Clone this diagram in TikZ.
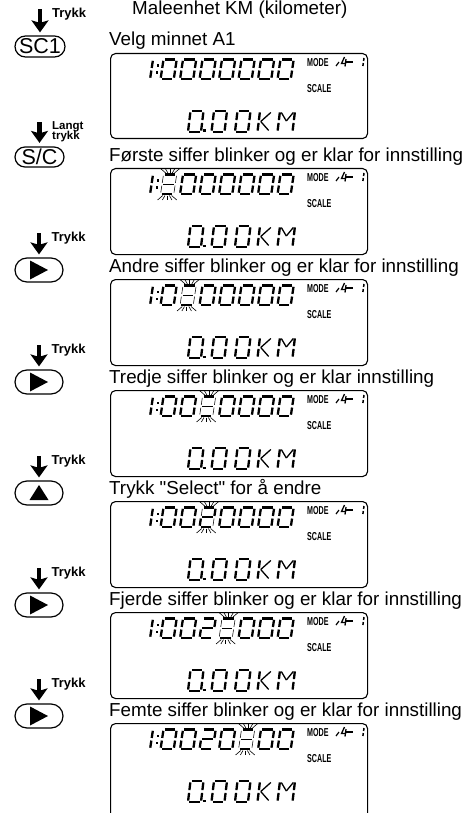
\documentclass[tikz,border=0pt]{standalone}
\usepackage{fontspec}
\setmainfont{Liberation Sans}[Ligatures=TeXOff]
\usetikzlibrary{arrows.meta}
\tikzset{
  seg/.style={line width=2.3pt},
  ghost/.style={line width=0.55pt},
  ray/.style={line width=0.6pt},
  thinseg/.style={line width=1.3pt},
  lcdbox/.style={draw, line width=1.1pt, rounded corners=5pt, minimum width=257pt, anchor=north west, inner sep=0pt},
  btn/.style={draw, line width=1.2pt, inner sep=0pt, font=\fontsize{21.5}{21.5}\selectfont},
  caption/.style={anchor=base west, inner sep=0pt, font=\fontsize{18.8}{20}\selectfont},
  lbl/.style={anchor=base west, inner sep=0pt, font=\fontsize{13}{13}\selectfont\bfseries},
  lbls/.style={anchor=base west, inner sep=0pt, font=\fontsize{11.5}{11.5}\selectfont\bfseries},
  small/.style={anchor=west, inner sep=0pt, font=\fontsize{11.5}{11.5}\selectfont\bfseries},
  press/.style={line width=4.4pt, -{Stealth[length=12pt,width=17pt,inset=2.5pt]}},
}
\newcommand\lcdSegA{\draw[curseg] ({\lcdG},0) -- ({\lcdW-\lcdG},0);}
\newcommand\lcdSegB{\draw[curseg] ({\lcdW},{\lcdG}) -- ({\lcdW},{\lcdH/2-\lcdG});}
\newcommand\lcdSegC{\draw[curseg] ({\lcdW},{\lcdH/2+\lcdG}) -- ({\lcdW},{\lcdH-\lcdG});}
\newcommand\lcdSegD{\draw[curseg] ({\lcdG},{\lcdH}) -- ({\lcdW-\lcdG},{\lcdH});}
\newcommand\lcdSegE{\draw[curseg] (0,{\lcdH/2+\lcdG}) -- (0,{\lcdH-\lcdG});}
\newcommand\lcdSegF{\draw[curseg] (0,{\lcdG}) -- (0,{\lcdH/2-\lcdG});}
\newcommand\lcdSegG{\draw[curseg] ({\lcdG},{\lcdH/2}) -- ({\lcdW-\lcdG},{\lcdH/2});}
\newcommand\lcddigit[4]{%
  \begin{scope}[shift={(#1,#2)}, xslant=\lcdS]
    \tikzset{curseg/.style={#4}}%
    \foreach \s in {#3}{\csname lcdSeg\s\endcsname}%
  \end{scope}}
\newcommand\lcdrays[2]{%
  \foreach \i in {-2,-1,0,1,2}{%
    \draw[ray] ({#1+2.2*\i},{#2-1.5}) -- ({#1+4.8*\i},{#2-6});
    \draw[ray] ({#1-\lcdS*\lcdH+2.2*\i},{#2+\lcdH+1.5}) -- ({#1-\lcdS*\lcdH+4.8*\i},{#2+\lcdH+6});
  }}
\newcommand\upperrow[4]{%
  \def\lcdW{13.2}\def\lcdH{19.5}\def\lcdS{0.15}\def\lcdG{1.3}%
  \lcddigit{153}{#1}{E,F}{seg}%
  \fill ({157.5-0.15*5},{#1+5}) rectangle +(2.2,2.2);
  \fill ({157.5-0.15*12},{#1+12}) rectangle +(2.2,2.2);
  \foreach \v [count=\n] in {#4}{%
    \pgfmathsetmacro\xx{163.5+19.5*(\n-1)}%
    \ifnum\n=#2\relax
      \lcddigit{\xx}{#1}{A,B,C,D,E,F,G}{ghost}%
      \lcddigit{\xx}{#1}{#3}{seg}%
      \lcdrays{\xx+6.6}{#1}%
    \else
      \ifnum\v=2\relax \lcddigit{\xx}{#1}{A,B,G,E,D}{seg}%
      \else \lcddigit{\xx}{#1}{A,B,C,D,E,F}{seg}\fi
    \fi}}
\newcommand\lowerrow[1]{%
  \def\lcdW{13}\def\lcdH{21}\def\lcdS{0.12}\def\lcdG{1.4}%
  \lcddigit{190.5}{#1}{A,B,C,D,E,F}{seg}%
  \lcddigit{214}{#1}{A,B,C,D,E,F}{seg}%
  \lcddigit{237.5}{#1}{A,B,C,D,E,F}{seg}%
  \fill ({205-0.12*19},{#1+18.5}) rectangle +(2.8,2.8);
  \begin{scope}[shift={(260,#1)}, xslant=0.12]
    \draw[seg] (0,1.4) -- (0,9.1); \draw[seg] (0,11.9) -- (0,19.6);
    \draw[thinseg] (2,10.5) -- (11,1.5); \draw[thinseg] (2,10.5) -- (11,19.5);
  \end{scope}
  \begin{scope}[shift={(280,#1)}, xslant=0.12]
    \draw[seg] (0,1.4) -- (0,9.1); \draw[seg] (0,11.9) -- (0,19.6);
    \draw[seg] (15,1.4) -- (15,9.1); \draw[seg] (15,11.9) -- (15,19.6);
    \draw[thinseg] (1.5,1.5) -- (7.5,10); \draw[thinseg] (13.5,1.5) -- (7.5,10);
  \end{scope}}
\newcommand\lcdpanel[6]{% #1 name, #2 box top, #3 height, #4 blink pos, #5 blink segs, #6 digits
  \node[lcdbox, minimum height=#3pt] (box#1) at (110,#2) {};
  \upperrow{#2+6.5}{#4}{#5}{#6}%
  \lowerrow{#2+58}%
  \node[small] (mode#1) at (307,#2+9.5) {\scalebox{0.62}[1]{MODE}};
  \node[small] (scale#1) at (307,#2+36) {\scalebox{0.62}[1]{SCALE}};
  \draw[line width=1.2pt] (336,#2+13) -- (339,#2+9);
  \draw[line width=1.3pt] (344.5,#2+4) -- (341.5,#2+10.5) -- (346,#2+10.5);
  \draw[line width=1.3pt] (346,#2+6) -- (345,#2+13.5);
  \draw[line width=2pt] (346,#2+9) -- (353,#2+9);
  \draw[line width=1.5pt] (364,#2+5) -- (363.6,#2+8);
  \draw[line width=1.5pt] (363.3,#2+10) -- (362.9,#2+13);
}
\begin{document}
\begin{tikzpicture}[x=1pt, y=-1pt]
\useasboundingbox (0,0) rectangle (465,813);
\node[caption] (title) at (132,15) {Maleenhet KM (kilometer)};

% captions
\node[caption] (cap1) at (109,46) {Velg minnet A1};
\node[caption] (cap2) at (109,161) {Første siffer blinker og er klar for innstilling};
\node[caption] (cap3) at (109,272) {Andre siffer blinker og er klar for innstilling};
\node[caption] (cap4) at (109,383) {Tredje siffer blinker og er klar innstilling};
\node[caption] (cap5) at (109,494) {Trykk "Select" for å endre};
\node[caption] (cap6) at (109,605) {Fjerde siffer blinker og er klar for innstilling};
\node[caption] (cap7) at (109,716) {Femte siffer blinker og er klar for innstilling};

% displays
\lcdpanel{1}{53}{85}{0}{A}{0,0,0,0,0,0,0}
\lcdpanel{2}{168}{86}{1}{A,D}{0,0,0,0,0,0,0}
\lcdpanel{3}{279}{86}{2}{A,D}{0,0,0,0,0,0,0}
\lcdpanel{4}{390}{86}{3}{A,D}{0,0,0,0,0,0,0}
\lcdpanel{5}{501}{86}{3}{A,B,G,E,D}{0,0,2,0,0,0,0}
\lcdpanel{6}{612}{86}{4}{A,D}{0,0,2,0,0,0,0}
\lcdpanel{7}{723}{95}{5}{A,D}{0,0,2,0,0,0,0}

% buttons
\node[btn, minimum width=50pt, minimum height=21pt, rounded corners=10.5pt] (b1) at (40,46.5) {SC1};
\node[btn, minimum width=49pt, minimum height=20pt, rounded corners=10pt] (b2) at (39.5,157) {S/C};
\node[btn, minimum width=48pt, minimum height=24pt, rounded corners=12pt] (b3) at (39,270) {};
\node[btn, minimum width=48pt, minimum height=24pt, rounded corners=12pt] (b4) at (39,382) {};
\node[btn, minimum width=48pt, minimum height=24pt, rounded corners=12pt] (b5) at (39,493) {};
\node[btn, minimum width=48pt, minimum height=24pt, rounded corners=12pt] (b6) at (39,605) {};
\node[btn, minimum width=48pt, minimum height=24pt, rounded corners=12pt] (b7) at (39,716) {};
\foreach \b in {b3,b4,b6,b7}{
  \fill ([shift={(-9,-9.5)}]\b.center) -- ([shift={(-9,9.5)}]\b.center) -- ([shift={(9,0)}]\b.center) -- cycle;
}
\fill ([shift={(-9.5,7)}]b5.center) -- ([shift={(9.5,7)}]b5.center) -- ([shift={(0,-8)}]b5.center) -- cycle;

% press arrows and labels
\coordinate (a1) at ([yshift=26pt]b1.north);
\coordinate (t1) at ([yshift=3pt]b1.north);
\draw[press] (a1) -- (t1);
\node[lbl] (l1) at ([shift={(12,8)}]a1) {Trykk};

\coordinate (a2) at ([yshift=24pt]b2.north);
\coordinate (t2) at ([yshift=3.5pt]b2.north);
\draw[press] (a2) -- (t2);
\node[lbls] (l2a) at ([shift={(12.5,7.5)}]a2) {Langt};
\node[lbls] (l2b) at ([shift={(12.5,17.5)}]a2) {trykk};

\foreach \n in {3,4,5,6,7}{
  \coordinate (a\n) at ([yshift=24pt]b\n.north);
  \coordinate (t\n) at ([yshift=3pt]b\n.north);
  \draw[press] (a\n) -- (t\n);
  \node[lbl] (l\n) at ([shift={(12.5,8.5)}]a\n) {Trykk};
}
\end{tikzpicture}
\end{document}
